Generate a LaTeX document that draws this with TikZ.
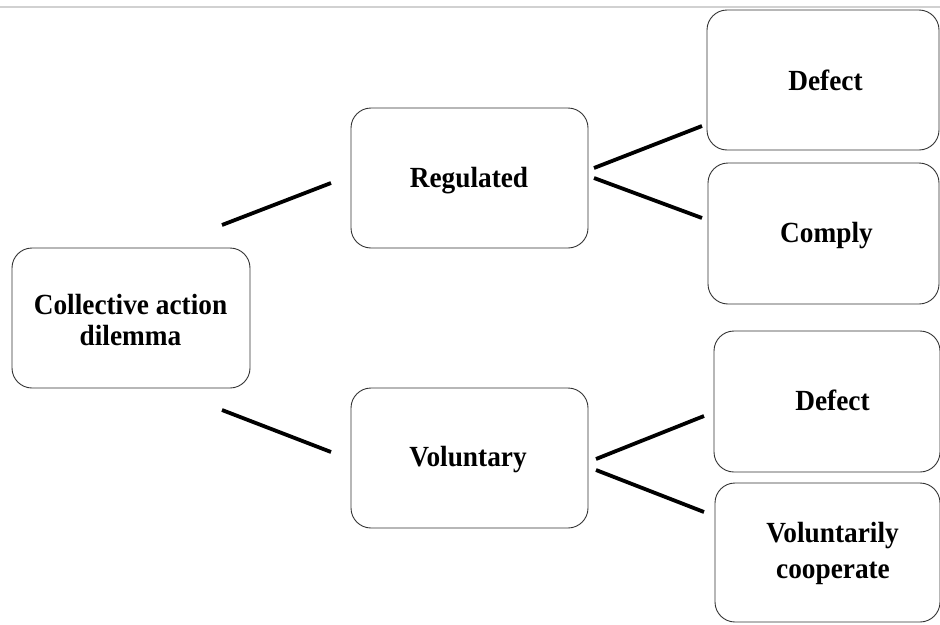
\documentclass[tikz,border=0pt]{standalone}
\usepackage{fontspec}
\setmainfont{Liberation Serif}
\begin{document}
\begin{tikzpicture}[x=1pt,y=-1pt,
  box/.style={draw=black!80,line width=0.9pt,rounded corners=20pt,inner sep=0pt},
  txt/.style={anchor=base,inner sep=0pt,font=\fontsize{27.3}{31}\selectfont\bfseries},
  link/.style={line width=3.8pt}]
\newcommand{\tall}[1]{\scalebox{1}[1.07]{#1}}
\useasboundingbox (0,0) rectangle (940,624);
\draw[black!18,line width=1.5pt] (0,7) -- (940,7);
\node[box,minimum width=238pt,minimum height=140pt] (coll) at (131,318) {};
\node[box,minimum width=237pt,minimum height=140pt] (reg) at (469.5,178) {};
\node[box,minimum width=237pt,minimum height=140pt] (vol) at (469.5,458) {};
\node[box,minimum width=232pt,minimum height=140pt] (d1) at (823,80) {};
\node[box,minimum width=231pt,minimum height=141pt] (c1) at (823.5,233.5) {};
\node[box,minimum width=226pt,minimum height=141pt] (d2) at (827,401.5) {};
\node[box,minimum width=225pt,minimum height=139pt] (vc) at (827.5,552.5) {};
\node[txt] (collA) at (130.5,314) {\tall{Collective action}};
\node[txt] (collB) at (130.5,345) {\tall{dilemma}};
\node[txt] (regT) at (469,187) {\tall{Regulated}};
\node[txt] (volT) at (468,466) {\tall{Voluntary}};
\node[txt] (d1T) at (825.5,90) {\tall{Defect}};
\node[txt] (c1T) at (826.5,242) {\tall{Comply}};
\node[txt] (d2T) at (832.5,410) {\tall{Defect}};
\node[txt] (vcA) at (832.5,542) {\tall{Voluntarily}};
\node[txt] (vcB) at (833,578) {\tall{cooperate}};
\coordinate (a1) at (222,225); \coordinate (a2) at (331,183);
\coordinate (b1) at (222,410); \coordinate (b2) at (331,452);
\coordinate (c1s) at (594,168); \coordinate (c1e) at (702,126);
\coordinate (c2s) at (594,178); \coordinate (c2e) at (702,218);
\coordinate (d1s) at (596,459); \coordinate (d1e) at (704,416);
\coordinate (d2s) at (596,470); \coordinate (d2e) at (704,512);
\draw[link] (a1) -- (a2);
\draw[link] (b1) -- (b2);
\draw[link] (c1s) -- (c1e);
\draw[link] (c2s) -- (c2e);
\draw[link] (d1s) -- (d1e);
\draw[link] (d2s) -- (d2e);
\end{tikzpicture}
\end{document}
